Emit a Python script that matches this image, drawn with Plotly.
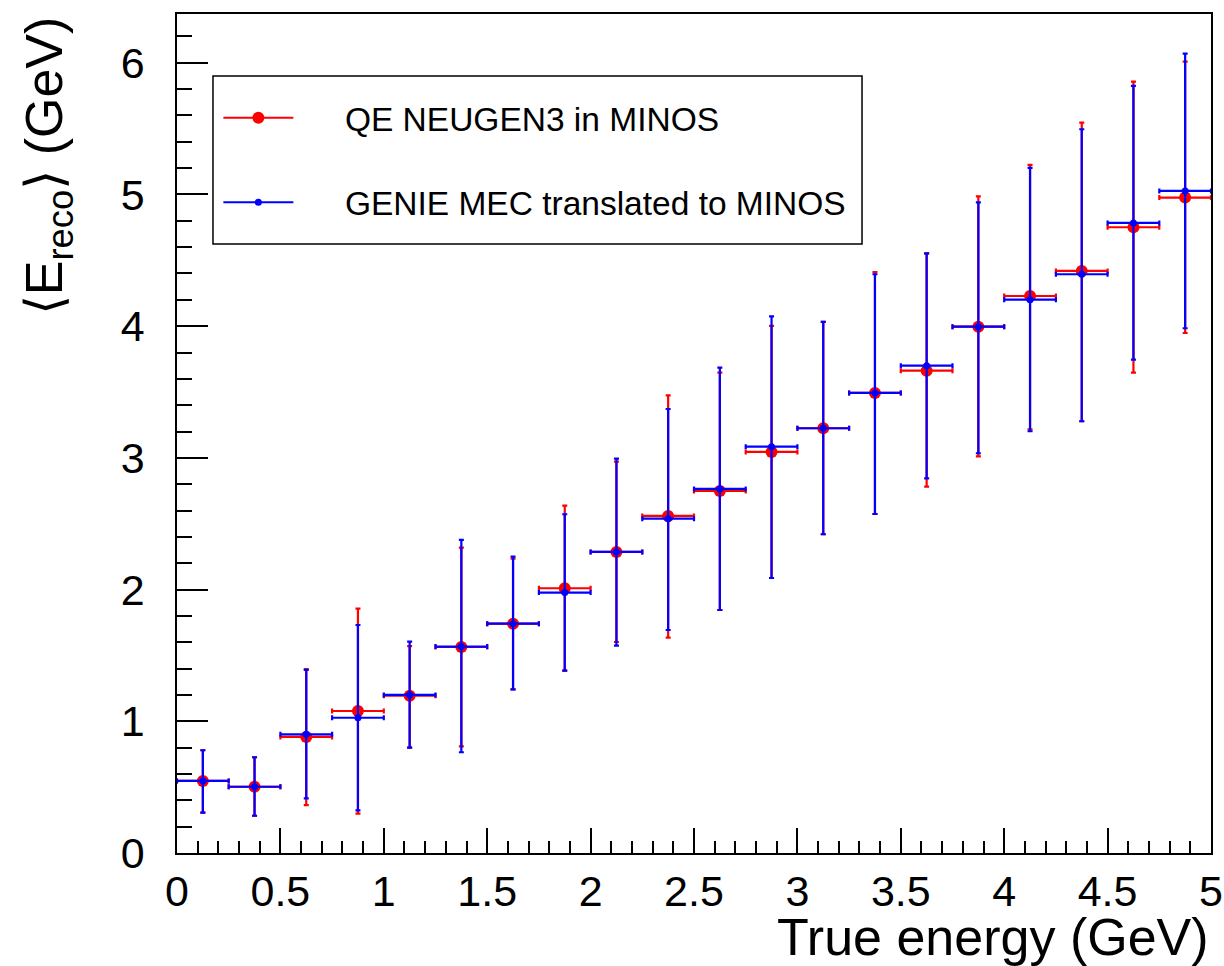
import plotly.graph_objects as go

# ---------------- data ----------------
bin_centers = [0.125, 0.375, 0.625, 0.875, 1.125, 1.375, 1.625, 1.875, 2.125, 2.375,
               2.625, 2.875, 3.125, 3.375, 3.625, 3.875, 4.125, 4.375, 4.625, 4.875]
bin_half_width = [0.125] * 20

qe_mean = [0.547, 0.503, 0.881, 1.078, 1.194, 1.564, 1.741, 2.010, 2.286, 2.559,
           2.749, 3.045, 3.225, 3.493, 3.662, 3.996, 4.229, 4.419, 4.751, 4.976]
qe_upper = [0.780, 0.727, 1.397, 1.855, 1.570, 2.318, 2.235, 2.637, 2.971, 3.475,
            3.647, 4.002, 4.032, 4.410, 4.553, 4.986, 5.224, 5.545, 5.857, 6.008]
qe_lower = [0.306, 0.283, 0.364, 0.299, 0.800, 0.810, 1.243, 1.384, 1.602, 1.635,
            1.845, 2.088, 2.420, 2.574, 2.781, 3.012, 3.217, 3.278, 3.647, 3.948]

mec_mean = [0.547, 0.503, 0.901, 1.027, 1.200, 1.567, 1.741, 1.977, 2.286, 2.538,
            2.764, 3.085, 3.225, 3.493, 3.700, 3.996, 4.201, 4.394, 4.784, 5.027]
mec_upper = [0.780, 0.727, 1.390, 1.731, 1.605, 2.377, 2.250, 2.572, 2.994, 3.371,
             3.685, 4.075, 4.032, 4.394, 4.553, 4.940, 5.201, 5.495, 5.824, 6.069]
mec_lower = [0.306, 0.283, 0.415, 0.324, 0.800, 0.765, 1.243, 1.384, 1.574, 1.693,
             1.845, 2.088, 2.420, 2.574, 2.845, 3.035, 3.202, 3.278, 3.746, 3.984]

series_names = ["QE NEUGEN3 in MINOS", "GENIE MEC translated to MINOS"]
x_title = "True energy (GeV)"
y_title = "⟨E<sub>reco</sub>⟩ (GeV)"

FONT = "Liberation Sans, Arial, Helvetica, sans-serif"
RED = "#ff0000"
BLUE = "#0000ff"
PAD = "\u00a0" * 5  # gap between legend symbol and text

fig = go.Figure()


def add_series(mean, upper, lower, color, msize, name):
    fig.add_trace(go.Scatter(
        x=bin_centers, y=mean, mode="markers", showlegend=False, name=name,
        marker=dict(color=color, size=msize, symbol="circle", line=dict(width=0)),
        error_x=dict(type="data", array=bin_half_width, symmetric=True,
                     color=color, thickness=2.2, width=2.5),
        error_y=dict(type="data",
                     array=[u - m for u, m in zip(upper, mean)],
                     arrayminus=[m - l for m, l in zip(mean, lower)],
                     symmetric=False, color=color, thickness=2.2, width=2.5),
    ))


add_series(qe_mean, qe_upper, qe_lower, RED, 12, series_names[0])
add_series(mec_mean, mec_upper, mec_lower, BLUE, 7, series_names[1])

# legend entries (line + marker, as in ROOT "lep")
fig.add_trace(go.Scatter(x=[None], y=[None], mode="lines+markers", name=PAD + series_names[0],
                         legendgroup="a", line=dict(color=RED, width=2),
                         marker=dict(color=RED, size=12)))
fig.add_trace(go.Scatter(x=[None], y=[None], mode="lines+markers", name=PAD + series_names[1],
                         legendgroup="b", line=dict(color=BLUE, width=2),
                         marker=dict(color=BLUE, size=7)))

axis_common = dict(
    showline=True, linecolor="black", linewidth=1.5, mirror=True, automargin=False,
    showgrid=False, zeroline=False, ticks="inside", tickcolor="black", tickwidth=1.5,
    tickfont=dict(family=FONT, size=43, color="black"),
)

fig.update_xaxes(range=[0, 5], dtick=0.5, tick0=0, ticklen=25,
                 minor=dict(dtick=0.1, ticks="inside", ticklen=12, tickcolor="black", tickwidth=1.5),
                 **axis_common)
fig.update_yaxes(range=[0, 6.37], dtick=1, tick0=0, ticklen=31, ticklabelstandoff=22,
                 minor=dict(dtick=0.2, ticks="inside", ticklen=15, tickcolor="black", tickwidth=1.5),
                 **axis_common)

fig.update_layout(
    width=1224, height=966,
    margin=dict(l=177, r=13, t=14, b=113, autoexpand=False),
    paper_bgcolor="white", plot_bgcolor="white",
    font=dict(family=FONT, color="black"),
    showlegend=True,
    legend=dict(x=0.04, y=0.91, xanchor="left", yanchor="top",
                bgcolor="rgba(0,0,0,0)", borderwidth=0,
                font=dict(family=FONT, size=33.5, color="black"),
                tracegroupgap=38, itemwidth=70),
    shapes=[dict(type="rect", xref="paper", yref="paper",
                 x0=0.0348, x1=0.6625, y0=0.7259, y1=0.9261,
                 line=dict(color="black", width=1.5), fillcolor="rgba(0,0,0,0)")],
    annotations=[
        dict(text=x_title, xref="paper", yref="paper", x=1.0, y=-0.1,
             xanchor="right", yanchor="middle", showarrow=False,
             font=dict(family=FONT, size=52, color="black")),
        dict(text=y_title, xref="paper", yref="paper", x=-0.125, y=1.0,
             xanchor="center", yanchor="top", textangle=-90, showarrow=False,
             font=dict(family=FONT, size=52, color="black")),
    ],
)

fig.write_html("out.html")
